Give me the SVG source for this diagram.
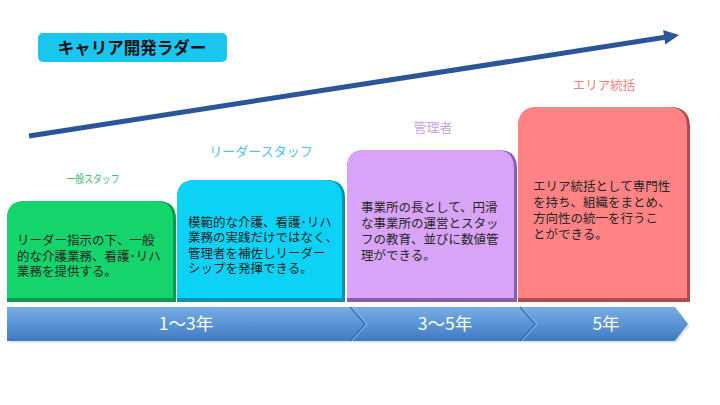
<svg xmlns="http://www.w3.org/2000/svg" width="720" height="405" viewBox="0 0 720 405">
<defs>
<linearGradient id="barGrad" x1="0" y1="0" x2="0" y2="1">
<stop offset="0" stop-color="#78ade6"/>
<stop offset="0.5" stop-color="#5b95d6"/>
<stop offset="1" stop-color="#4179c0"/>
</linearGradient>
</defs>
<style>
text{font-family:"Noto Sans CJK JP","Noto Sans",sans-serif;}
.body{font-family:"Liberation Sans","Noto Sans CJK JP",sans-serif;font-size:12.5px;fill:#262626;}
.year{font-size:17.5px;fill:#ffffff;text-anchor:middle;}
.lvl{text-anchor:middle;}
.notch{fill:none;stroke:#3a6eae;stroke-width:1.2;}
.notchHi{fill:none;stroke:#8bbbea;stroke-width:1;}
</style>
<rect width="720" height="405" fill="#ffffff"/>

<g id="title">
<rect x="38" y="33" width="189" height="29" rx="5" fill="#1ac6ee"/>
<text x="132" y="53.5" text-anchor="middle" font-size="16.5" font-weight="bold" fill="#111">キャリア開発ラダー</text>
</g>

<g id="connectors">
<line x1="29" y1="136" x2="665" y2="37.3" stroke="#2c5597" stroke-width="5"/>
<polygon points="679,35 665.3,44.5 663.1,30.1" fill="#2c5597"/>
</g>

<g id="timeline">
<polygon points="9,309 677,309 690,326 677,343 9,343" fill="#d8dde4" opacity="0.7"/>
<polygon points="7,307 675,307 688,324 675,341 7,341" fill="url(#barGrad)"/>
<polyline class="notchHi" points="352,307 367,324 352,341"/>
<polyline class="notch" points="350,307 365,324 350,341"/>
<polyline class="notchHi" points="522,307 537,324 522,341"/>
<polyline class="notch" points="520,307 535,324 520,341"/>
<text class="year" x="186" y="330">1〜3年</text>
<text class="year" x="445" y="330">3〜5年</text>
<text class="year" x="606" y="330">5年</text>
</g>

<g id="node-general">
<text class="lvl" x="93" y="183" font-size="11" fill="#3dba7a" textLength="53" lengthAdjust="spacingAndGlyphs">一般スタッフ</text>
<path d="M7,302 V219 Q7,201 25,201 H158 Q176,201 176,219 V302 Z" fill="#0b9a4c"/>
<path d="M7,298 V219 Q7,201 25,201 H155 Q173,201 173,219 V298 Z" fill="#14d46b"/>
<text class="body" x="17" y="245">リーダー指示の下、一般<tspan x="17" dy="15.5">的な介護業務、看護･リハ</tspan><tspan x="17" dy="15.5">業務を提供する。</tspan></text>
</g>

<g id="node-leader">
<text class="lvl" x="261" y="156" font-size="13" fill="#4cc5e8">リーダースタッフ</text>
<path d="M177,302 V198 Q177,180 195,180 H327 Q345,180 345,198 V302 Z" fill="#0a93b2"/>
<path d="M177,298 V198 Q177,180 195,180 H324 Q342,180 342,198 V298 Z" fill="#0cd3f6"/>
<text class="body" x="188" y="226.5">模範的な介護、看護･リハ<tspan x="188" dy="15.5">業務の実践だけではなく、</tspan><tspan x="188" dy="15.5">管理者を補佐しリーダー</tspan><tspan x="188" dy="15.5">シップを発揮できる。</tspan></text>
</g>

<g id="node-manager">
<text class="lvl" x="433" y="132" font-size="13" fill="#c9a5e2">管理者</text>
<path d="M347,302 V168 Q347,150 365,150 H499 Q517,150 517,168 V302 Z" fill="#8a5caa"/>
<path d="M347,298 V168 Q347,150 365,150 H496 Q514,150 514,168 V298 Z" fill="#d8a4f8"/>
<text class="body" x="361" y="211.5">事業所の長として、円滑<tspan x="361" dy="16">な事業所の運営とスタッ</tspan><tspan x="361" dy="16">フの教育、並びに数値管</tspan><tspan x="361" dy="16">理ができる。</tspan></text>
</g>

<g id="node-area">
<text class="lvl" x="604" y="90" font-size="12.5" fill="#ee8080">エリア統括</text>
<path d="M518,302 V127 Q518,107 538,107 H670 Q690,107 690,127 V302 Z" fill="#b04c50"/>
<path d="M518,298 V127 Q518,107 538,107 H667 Q687,107 687,127 V298 Z" fill="#ff8284"/>
<text class="body" x="533" y="190.5">エリア統括として専門性<tspan x="533" dy="16">を持ち、組織をまとめ、</tspan><tspan x="533" dy="16">方向性の統一を行うこ</tspan><tspan x="533" dy="16">とができる。</tspan></text>
</g>
</svg>
